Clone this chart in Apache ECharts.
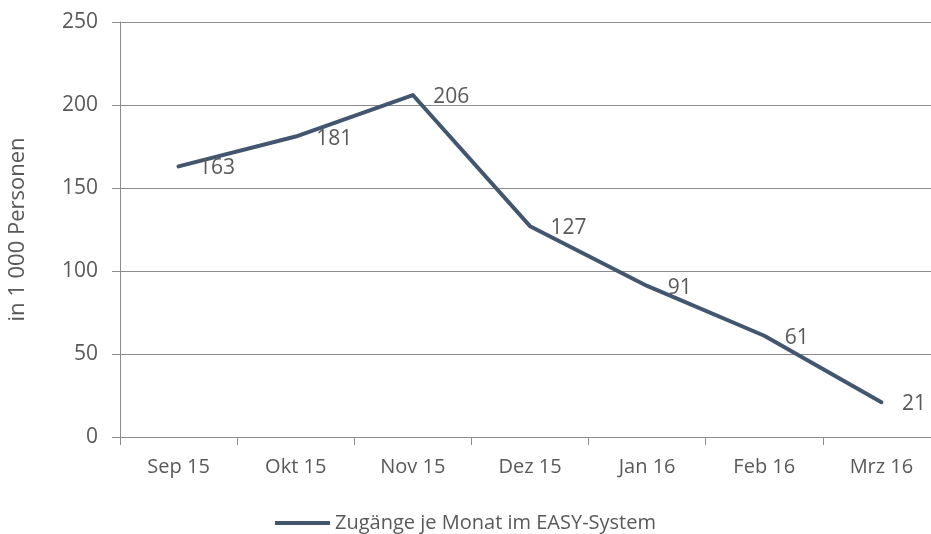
<!DOCTYPE html>
<html>
<head>
<meta charset="utf-8">
<script src="https://cdn.jsdelivr.net/npm/echarts@6/dist/echarts.min.js"></script>
<style>html,body{margin:0;padding:0;background:#fff}#c{width:931px;height:534px}</style>
</head>
<body>
<div id="c"></div>
<script>
const categories = ["Sep 15", "Okt 15", "Nov 15", "Dez 15", "Jan 16", "Feb 16", "Mrz 16"];
const values = [163, 181, 206, 127, 91, 61, 21];
const seriesName = "Zugänge je Monat im EASY-System";
const yAxisName = "in 1 000 Personen";

const FONT = "Open Sans";
const TXT = "#595959";
const GRID = "#8c8c8c";
const LINE = "#42566f";
const chart = echarts.init(document.getElementById('c'));
chart.setOption({
  animation: false,
  textStyle: { fontFamily: FONT },
  grid: { left: 120, top: 22, width: 820, height: 415, outerBoundsMode: 'none', containLabel: false },
  legend: {
    top: 508, left: 'center',
    data: [seriesName],
    icon: 'rect', itemWidth: 55, itemHeight: 4,
    textStyle: { color: TXT, fontSize: 20, fontFamily: FONT }
  },
  xAxis: {
    type: 'category', data: categories, boundaryGap: true,
    axisLine: { lineStyle: { color: GRID, width: 1 } },
    axisTick: { show: true, length: 8, lineStyle: { color: GRID } },
    axisLabel: { color: TXT, fontSize: 20, margin: 20, fontFamily: FONT }
  },
  yAxis: {
    type: 'value', min: 0, max: 250, interval: 50,
    name: yAxisName, nameLocation: 'middle', nameGap: 91,
    nameTextStyle: { color: TXT, fontSize: 22, fontFamily: FONT },
    axisLine: { show: true, lineStyle: { color: GRID, width: 1 } },
    axisTick: { show: true, length: 8, lineStyle: { color: GRID } },
    axisLabel: { color: TXT, fontSize: 21, margin: 22, fontFamily: FONT },
    splitLine: { lineStyle: { color: GRID, width: 1 } }
  },
  series: [{
    name: seriesName, type: 'line', data: values,
    symbol: 'circle', symbolSize: 1, showSymbol: true,
    itemStyle: { color: LINE },
    lineStyle: { color: LINE, width: 4, cap: 'round', join: 'round' },
    label: { show: true, position: 'right', distance: 20, offset: [0, 2], color: TXT, fontSize: 21, fontFamily: FONT }
  }]
});
</script>
</body>
</html>
